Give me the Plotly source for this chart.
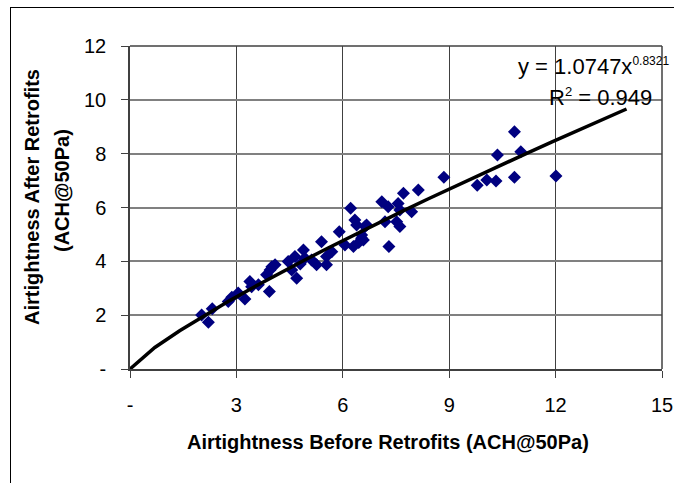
import numpy as np
import plotly.graph_objects as go

# Data
before = [2.02, 2.21, 2.32, 2.77, 2.87, 3.05, 3.24, 3.38, 3.43, 3.62, 3.93, 3.85, 3.95, 4.09, 4.00,
          4.46, 4.56, 4.70, 4.65, 4.89, 4.93, 4.80, 5.12, 5.26, 5.40, 5.54, 5.54, 5.69, 5.90, 6.06,
          6.22, 6.34, 6.39, 6.53, 6.30, 6.58, 6.67, 6.63, 6.53, 6.45, 7.10, 7.28, 7.56, 7.71, 7.61,
          7.94, 8.13, 7.19, 7.52, 7.61, 7.30, 8.85, 9.79, 10.06, 10.32, 10.36, 10.84, 10.84, 11.02, 12.01]
after = [2.01, 1.74, 2.24, 2.51, 2.67, 2.82, 2.60, 3.25, 3.06, 3.13, 2.88, 3.50, 3.68, 3.87, 3.80,
         3.99, 3.68, 3.37, 4.18, 4.42, 4.12, 3.90, 4.05, 3.87, 4.73, 4.18, 3.87, 4.36, 5.10, 4.61,
         5.97, 5.54, 5.35, 4.98, 4.55, 4.79, 5.35, 5.29, 4.86, 4.70, 6.21, 6.03, 6.15, 6.53, 5.91,
         5.84, 6.65, 5.47, 5.47, 5.29, 4.55, 7.12, 6.83, 7.02, 6.98, 7.95, 8.81, 7.12, 8.07, 7.17]

# Power trendline shown on the chart: y = a * x^b
fit_a = 1.0747
fit_b = 0.8321
fit_x = np.linspace(0.0, 14.0, 21)
fit_y = fit_a * fit_x ** fit_b

x_ticks = [0, 3, 6, 9, 12, 15]
x_ticktext = ["-", "3", "6", "9", "12", "15"]
y_ticks = [0, 2, 4, 6, 8, 10, 12]
y_ticktext = ["-", "2", "4", "6", "8", "10", "12"]

FONT = "Liberation Sans, Arial, sans-serif"

fig = go.Figure()
fig.add_trace(go.Scatter(
    x=before, y=after, mode="markers",
    marker=dict(symbol="diamond", size=10, color="#000080", line=dict(width=0)),
    showlegend=False, cliponaxis=False))
fig.add_trace(go.Scatter(
    x=fit_x, y=fit_y, mode="lines",
    line=dict(color="black", width=3.5),
    showlegend=False, cliponaxis=False))

L, R, T, B = 130, 12, 46, 114
W, H = 674, 483
pw = W - L - R
ph = H - T - B

fig.update_layout(
    width=W, height=H,
    margin=dict(l=L, r=R, t=T, b=B, pad=0, autoexpand=False),
    paper_bgcolor="white", plot_bgcolor="white",
    font=dict(family=FONT, color="black", size=20),
    xaxis=dict(range=[0, 15], tickvals=x_ticks, ticktext=x_ticktext,
               showgrid=True, gridcolor="#404040", gridwidth=1,
               showline=True, linecolor="#404040", linewidth=1.5,
               ticks="outside", ticklen=7, tickcolor="#404040",
               ticklabelstandoff=10, zeroline=False, automargin=False,
               tickfont=dict(size=20, family=FONT)),
    yaxis=dict(range=[0, 12], tickvals=y_ticks, ticktext=y_ticktext,
               showgrid=True, gridcolor="#808080", gridwidth=1.5,
               showline=True, linecolor="#404040", linewidth=1.5,
               ticks="outside", ticklen=7, tickcolor="#404040",
               ticklabelstandoff=11, zeroline=False, automargin=False,
               tickfont=dict(size=20, family=FONT)),
)

def px2x(p):
    return (p - L) / pw

def px2y(p):
    return (H - B - p) / ph

# outer chart border (only left and top visible in the window)
fig.add_shape(type="line", xref="paper", yref="paper",
              x0=px2x(10), x1=px2x(674), y0=px2y(7.5), y1=px2y(7.5),
              line=dict(color="black", width=1), layer="above")
fig.add_shape(type="line", xref="paper", yref="paper",
              x0=px2x(10.5), x1=px2x(10.5), y0=px2y(7), y1=px2y(483),
              line=dict(color="black", width=1), layer="above")
# top and right plot edges
fig.add_shape(type="line", xref="paper", yref="paper", x0=0, x1=1, y0=1, y1=1,
              line=dict(color="#404040", width=1.5))
fig.add_shape(type="line", xref="paper", yref="paper", x0=1, x1=1, y0=0, y1=1,
              line=dict(color="#404040", width=1.5))

# axis titles
fig.add_annotation(text="Airtightness Before Retrofits (ACH@50Pa)", xref="paper", yref="paper",
                   x=px2x(388), y=px2y(442), showarrow=False, xanchor="center", yanchor="middle",
                   font=dict(size=20, family=FONT, weight="bold"))
fig.add_annotation(text="Airtightness After Retrofits", xref="paper", yref="paper",
                   x=px2x(32), y=px2y(197), showarrow=False, textangle=-90,
                   xanchor="center", yanchor="middle",
                   font=dict(size=20, family=FONT, weight="bold"))
fig.add_annotation(text="(ACH@50Pa)", xref="paper", yref="paper",
                   x=px2x(62), y=px2y(191), showarrow=False, textangle=-90,
                   xanchor="center", yanchor="middle",
                   font=dict(size=20, family=FONT, weight="bold"))

# equation
fig.add_annotation(text=f"y = {fit_a}x<sup><span style='font-size:12px'>{fit_b}</span></sup>",
                   xref="paper", yref="paper",
                   x=px2x(516), y=px2y(66), showarrow=False, xanchor="left", yanchor="middle",
                   font=dict(size=22, family=FONT))
fig.add_annotation(text="R<sup><span style='font-size:13px'>2</span></sup> = 0.949",
                   xref="paper", yref="paper",
                   x=px2x(547), y=px2y(97), showarrow=False, xanchor="left", yanchor="middle",
                   font=dict(size=22, family=FONT))

fig.write_html("out.html")
